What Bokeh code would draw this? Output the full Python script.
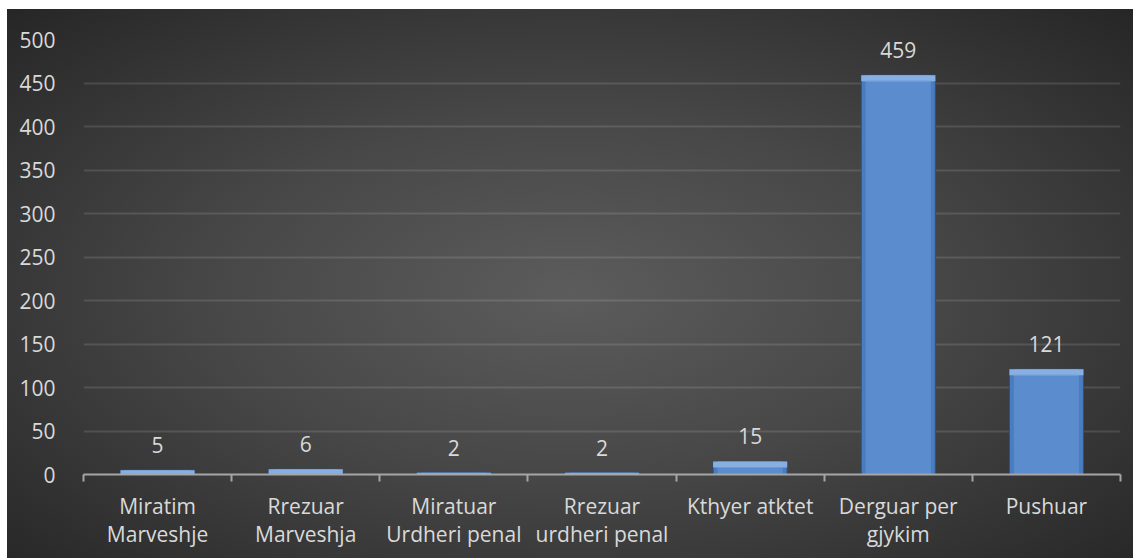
from bokeh.plotting import figure
from bokeh.models import ColumnDataSource, FixedTicker, Range1d, LabelSet
from bokeh.core.properties import value
from bokeh.embed import file_html
from bokeh.resources import INLINE

categories = ["Miratim\nMarveshje", "Rrezuar\nMarveshja", "Miratuar\nUrdheri penal",
              "Rrezuar\nurdheri penal", "Kthyer atktet", "Derguar per\ngjykim", "Pushuar"]
values = [5, 6, 2, 2, 15, 459, 121]
y_ticks = [0, 50, 100, 150, 200, 250, 300, 350, 400, 450, 500]

xs = [i + 0.5 for i in range(len(categories))]
bevel = 7  # height of the light top bevel in data units (style)
src = ColumnDataSource(dict(x=xs, top=values, lbl=[str(v) for v in values],
                            bev=[max(v - bevel, 0) for v in values]))

FONT = "Open Sans"
TXT = "#d9d9d9"
FS = "21px"

p = figure(width=1126, height=549, output_backend="svg", toolbar_location=None,
           x_range=Range1d(0, len(categories)), y_range=Range1d(0, 500),
           min_border_left=76, min_border_right=13, min_border_top=30, min_border_bottom=84)
p.margin = (9, 0, 0, 7)
p.styles = {"background": "radial-gradient(ellipse farthest-corner at 50% 52%, #5c5c5c 0%, #474747 45%, #262626 100%)"}
p.background_fill_alpha = 0
p.border_fill_alpha = 0
p.outline_line_color = None

p.vbar(x="x", top="top", width=0.5, bottom=0, source=src,
       fill_color="#4a7dbf", line_color="#2c5183", line_width=1)
p.vbar(x="x", top="top", width=0.44, bottom=0, source=src,
       fill_color="#5a8cce", line_color=None)
p.vbar(x="x", top="top", bottom="bev", width=0.5, source=src,
       fill_color="#88afe2", line_color=None)
p.vbar(x="x", top="bev", bottom="bev", width=0.44, source=src,
       line_color="#6f9bd6", line_width=1)

labels = LabelSet(x="x", y="top", text="lbl", source=src, text_align="center",
                  text_baseline="middle", y_offset=25, text_color=TXT,
                  text_font=value(FONT), text_font_size=FS)
p.add_layout(labels)

# y axis
p.yaxis.ticker = FixedTicker(ticks=y_ticks)
p.yaxis.axis_line_color = None
p.yaxis.major_tick_line_color = None
p.yaxis.minor_tick_line_color = None
p.yaxis.major_label_standoff = 22
p.yaxis.major_label_text_color = TXT
p.yaxis.major_label_text_font = FONT
p.yaxis.major_label_text_font_size = FS

# x axis
p.xaxis.ticker = FixedTicker(ticks=xs, minor_ticks=list(range(len(categories) + 1)))
p.xaxis.major_label_overrides = {x: c for x, c in zip(xs, categories)}
p.xaxis.axis_line_color = "#a6a6a6"
p.xaxis.axis_line_width = 2
p.xaxis.major_tick_line_color = None
p.xaxis.minor_tick_line_color = "#a6a6a6"
p.xaxis.minor_tick_line_width = 2
p.xaxis.minor_tick_in = 0
p.xaxis.minor_tick_out = 7
p.xaxis.major_label_standoff = 10
p.xaxis.major_label_text_color = TXT
p.xaxis.major_label_text_font = FONT
p.xaxis.major_label_text_font_size = FS
p.xaxis.major_label_text_line_height = 1.0

p.xgrid.grid_line_color = None
p.ygrid.ticker = FixedTicker(ticks=y_ticks[1:])
p.ygrid.grid_line_color = "white"
p.ygrid.grid_line_alpha = 0.12
p.ygrid.grid_line_width = 2

open("out.html", "w").write(file_html(p, INLINE))
